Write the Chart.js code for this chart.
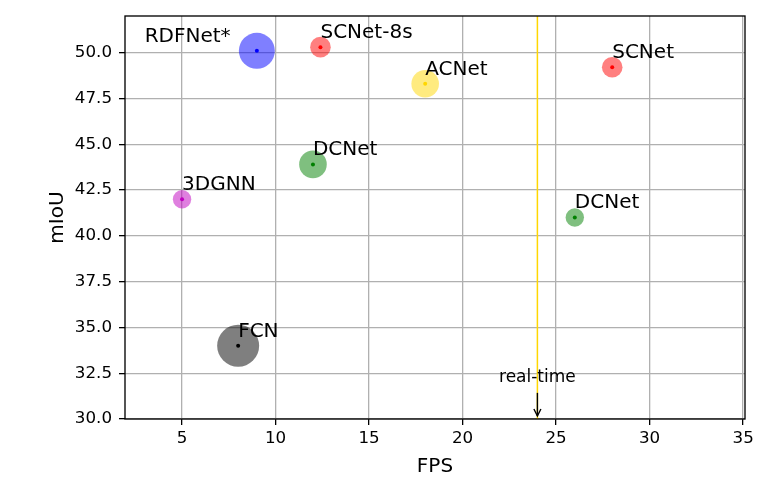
<!DOCTYPE html>
<html><head><meta charset="utf-8">
<script src="https://cdn.jsdelivr.net/npm/chart.js@4.4.0/dist/chart.umd.min.js"></script>
<style>html,body{margin:0;padding:0;background:#fff}#wrap{width:768px;height:479px}</style>
</head><body><div id="wrap"><canvas id="c" width="768" height="479"></canvas></div>
<script>
// ---- data ----
const models = ['RDFNet*', 'SCNet-8s', 'ACNet', 'SCNet', 'DCNet', '3DGNN', 'DCNet', 'FCN'];
const fps = [9, 12.4, 18, 28, 12, 5, 26, 8];
const miou = [50.1, 50.3, 48.3, 49.2, 43.9, 42.0, 41.0, 34.0];
const bubbleSize = [18, 10.3, 13.8, 10.3, 13.8, 9.2, 9.2, 21];
const labelX = [3, 12.4, 18, 28, 12, 5, 26, 8];
const labelY = [50.6, 50.8, 48.8, 49.7, 44.4, 42.5, 41.5, 34.5];
const xTicks = [5, 10, 15, 20, 25, 30, 35];
const yTicks = [30, 32.5, 35, 37.5, 40, 42.5, 45, 47.5, 50];
const realTimeFps = 24;
const realTimeTextY = 32;
const realTimeTargetY = 30;
const realTimeLabel = 'real-time';
const baseColors = ['0,0,255', '255,0,0', '255,215,0', '255,0,0', '0,128,0', '191,0,191', '0,128,0', '0,0,0'];

Chart.defaults.font.family = '"DejaVu Sans", sans-serif';
Chart.defaults.color = '#000';

const overlay = {
  id: 'overlay',
  beforeDatasetsDraw(chart) {
    const {ctx, chartArea: a, scales: {x}} = chart;
    const px = x.getPixelForValue(realTimeFps);
    ctx.save();
    ctx.strokeStyle = '#ffd700';
    ctx.lineWidth = 1.5;
    ctx.beginPath(); ctx.moveTo(px, a.top); ctx.lineTo(px, a.bottom); ctx.stroke();
    ctx.restore();
  },
  afterDatasetsDraw(chart) {
    const {ctx, chartArea: a, scales: {x, y}} = chart;
    ctx.save();
    ctx.fillStyle = '#000';
    ctx.textBaseline = 'alphabetic';
    ctx.textAlign = 'left';
    ctx.font = '20px "DejaVu Sans"';
    models.forEach((m, i) => ctx.fillText(m, x.getPixelForValue(labelX[i]), y.getPixelForValue(labelY[i])));
    // real-time annotation
    const px = x.getPixelForValue(realTimeFps);
    const ty = y.getPixelForValue(realTimeTextY);
    ctx.font = '17px "DejaVu Sans"';
    ctx.textAlign = 'center';
    ctx.fillText(realTimeLabel, px, ty);
    const y0 = ty + 10.5, y1 = y.getPixelForValue(realTimeTargetY) - 3;
    ctx.strokeStyle = '#000';
    ctx.lineWidth = 1.4;
    ctx.beginPath(); ctx.moveTo(px, y0); ctx.lineTo(px, y1); ctx.stroke();
    ctx.beginPath(); ctx.moveTo(px - 3.5, y1 - 7); ctx.lineTo(px, y1); ctx.lineTo(px + 3.5, y1 - 7); ctx.stroke();
    // frame
    ctx.lineWidth = 1.33;
    ctx.strokeRect(a.left, a.top, a.right - a.left, a.bottom - a.top);
    ctx.restore();
  }
};

const zeroPad = s => { s.paddingTop = 0; s.paddingBottom = 0; s.paddingLeft = 0; s.paddingRight = 0; };

new Chart(document.getElementById('c'), {
  type: 'bubble',
  data: {
    datasets: [
      {
        data: fps.map((v, i) => ({x: v, y: miou[i], r: bubbleSize[i]})),
        backgroundColor: baseColors.map(c => `rgba(${c},0.5)`),
        borderWidth: 0,
        hoverRadius: 0
      },
      {
        data: fps.map((v, i) => ({x: v, y: miou[i], r: 2})),
        backgroundColor: baseColors.map(c => `rgb(${c})`),
        borderWidth: 0,
        hoverRadius: 0
      }
    ]
  },
  options: {
    responsive: false,
    animation: false,
    devicePixelRatio: 1,
    layout: {autoPadding: false, padding: {top: 16, right: 23, bottom: 0, left: 0}},
    plugins: {legend: {display: false}, tooltip: {enabled: false}},
    scales: {
      x: {
        type: 'linear', min: 1.95, max: 35.1,
        afterBuildTicks: s => { s.ticks = xTicks.map(v => ({value: v})); },
        afterFit: s => { s.height = 60; zeroPad(s); },
        ticks: {font: {size: 16.7}, padding: 4, callback: v => String(v), maxRotation: 0},
        grid: {color: '#b0b0b0', lineWidth: 1.3, tickColor: '#000', tickLength: 6, tickWidth: 1.3},
        border: {display: false},
        title: {display: true, text: 'FPS', font: {size: 20}, padding: {top: 0, bottom: 0}}
      },
      y: {
        type: 'linear', min: 30, max: 52,
        afterBuildTicks: s => { s.ticks = yTicks.map(v => ({value: v})); },
        afterFit: s => { s.width = 125; zeroPad(s); },
        ticks: {font: {size: 16.7}, padding: 7, callback: v => v.toFixed(1)},
        grid: {color: '#b0b0b0', lineWidth: 1.3, tickColor: '#000', tickLength: 6, tickWidth: 1.3},
        border: {display: false},
        title: {display: true, text: 'mIoU', font: {size: 20}, padding: {top: 45.5, bottom: 0}}
      }
    }
  },
  plugins: [overlay]
});
</script></body></html>
